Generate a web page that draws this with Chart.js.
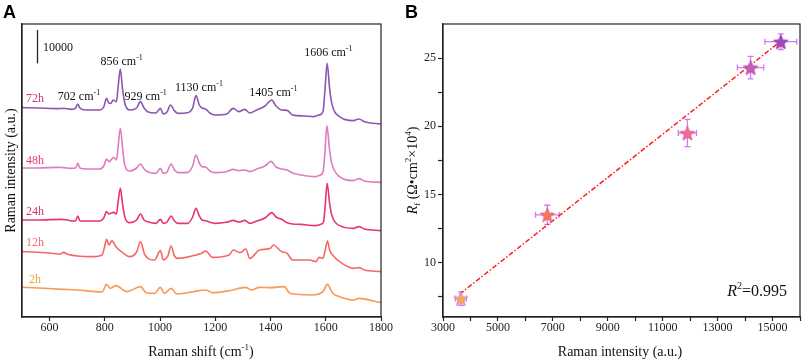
<!DOCTYPE html>
<html><head><meta charset="utf-8">
<script src="https://cdn.jsdelivr.net/npm/chart.js@4.4.1/dist/chart.umd.min.js"></script>
<style>
html,body{margin:0;padding:0;background:#fff;width:809px;height:363px;overflow:hidden}
#ca{position:absolute;left:0;top:0}
#cb{position:absolute;left:400px;top:0}
</style></head>
<body>
<canvas id="ca" width="400" height="363"></canvas>
<canvas id="cb" width="409" height="363"></canvas>
<script>
// ---------- Panel A data: Raman spectra (shift cm-1, stacked intensity a.u.) ----------
const spec72h = [[500,62800],[560,62700],[630,62500],[650,62600],[680,62300],[694,62700],[702,63900],[710,62700],[730,62100],[780,62100],[796,63000],[806,65600],[815,64200],[822,64100],[830,65100],[842,64600],[848,69000],[856,74400],[864,68500],[872,64200],[890,62100],[915,62700],[929,64600],[942,62700],[955,61600],[985,61200],[1001,62600],[1012,60900],[1025,61500],[1038,63600],[1050,62100],[1065,61100],[1100,61300],[1118,62700],[1130,66400],[1142,63600],[1152,62700],[1165,62400],[1180,61200],[1200,60600],[1240,60800],[1265,62600],[1285,61600],[1307,62300],[1325,61200],[1350,62100],[1380,63300],[1404,65100],[1420,63300],[1440,62100],[1460,62000],[1480,60600],[1520,60300],[1555,60100],[1575,60600],[1590,61600],[1597,68000],[1605,76100],[1614,68500],[1622,64000],[1650,60100],[1700,58900],[1720,59400],[1740,58600],[1800,57900]];
const spec48h = [[500,44700],[560,44700],[630,44900],[650,44800],[680,44600],[694,44700],[702,46100],[710,44700],[730,44400],[780,44400],[796,45300],[806,47400],[815,46600],[832,47900],[842,47100],[848,51000],[856,56600],[864,51000],[872,45600],[890,43800],[915,44700],[929,45900],[942,44400],[955,43600],[985,43100],[1001,44600],[1012,43100],[1025,43500],[1040,45900],[1052,44100],[1065,43300],[1100,43400],[1118,45300],[1130,48600],[1142,46200],[1152,45100],[1165,45000],[1180,43800],[1200,43300],[1240,43600],[1265,44300],[1285,43900],[1307,44100],[1325,43600],[1350,44400],[1380,45300],[1402,46700],[1420,45000],[1440,44400],[1460,44100],[1480,43200],[1510,42600],[1560,42100],[1580,42600],[1590,43500],[1597,49500],[1604,57400],[1614,50000],[1622,46000],[1650,42100],[1700,40900],[1720,41500],[1740,40800],[1800,40400]];
const spec24h = [[500,29100],[560,29100],[640,29300],[660,29200],[680,28800],[694,28800],[702,30300],[710,28800],[780,28800],[796,29700],[806,31600],[815,30900],[832,31400],[842,30900],[848,34500],[856,38600],[864,34000],[872,30100],[890,28300],[915,29100],[929,30900],[942,29100],[955,28600],[985,28100],[1001,29300],[1012,28100],[1025,28500],[1040,30300],[1052,28800],[1065,28100],[1100,28100],[1118,30000],[1130,32600],[1142,30300],[1152,29100],[1165,28900],[1180,28400],[1200,28100],[1240,28400],[1265,29000],[1285,28500],[1307,29000],[1325,28100],[1350,28800],[1380,29700],[1405,31300],[1420,30000],[1440,29300],[1460,28300],[1480,27900],[1510,27800],[1560,27400],[1585,27900],[1592,28600],[1598,33500],[1605,40100],[1614,34000],[1622,30500],[1650,27400],[1700,26600],[1720,27100],[1740,26400],[1800,25900]];
const spec12h = [[500,19600],[540,19500],[600,19200],[640,18900],[650,19400],[665,18800],[700,18300],[760,18100],[790,18600],[798,20700],[806,23300],[815,21600],[825,22900],[840,21100],[860,19600],[890,18100],[915,19500],[929,22600],[945,18600],[980,17100],[1001,19900],[1012,17100],[1028,18300],[1040,21300],[1052,18300],[1065,17600],[1100,18000],[1150,19100],[1165,19800],[1190,17900],[1250,18600],[1265,20100],[1290,19300],[1310,20400],[1325,17600],[1360,20100],[1400,20600],[1410,21600],[1440,19600],[1460,19100],[1480,17100],[1540,17100],[1565,16600],[1575,17900],[1590,17600],[1598,20100],[1606,22800],[1614,20100],[1625,18600],[1650,16600],[1700,14600],[1720,14800],[1740,14100],[1800,13600]];
const spec2h = [[500,8900],[560,8700],[650,8300],[700,8100],[790,7500],[806,9800],[820,8600],[840,9400],[880,7600],[929,9100],[950,7300],[980,7100],[1001,8900],[1015,7100],[1040,8600],[1060,6900],[1100,7300],[1120,7600],[1165,8100],[1190,7300],[1250,7900],[1310,8900],[1330,8100],[1360,8900],[1400,8800],[1450,9100],[1470,7100],[1550,6600],[1590,7600],[1606,9800],[1625,7100],[1650,6100],[1700,5100],[1720,5600],[1800,4300]];
const seriesNames = ['2h','12h','24h','48h','72h'];
const seriesColors = ['#f89a55','#f46a62','#e8346f','#de7cc0','#8c56b2'];
const labelColors = ['#f2a02e','#f26f6f','#e0306c','#e6407c','#c9386f'];
const peakLabels = ['702','856','929','1130','1405','1606'];
const xTicksA = [600,800,1000,1200,1400,1600,1800];
const scaleBarValue = 10000;

// ---------- Panel B data ----------
const ramanIntensity = [3650,6800,11900,14200,15300];
const ramanIntensityErr = [200,430,330,480,580];
const rfValues = [7.35,13.5,19.5,24.3,26.2];
const rfErr = [0.5,0.7,1.0,0.83,0.57];
const fitX = [3600,15350];
const fitY = [7.67,26.32];
const xTicksB = [3000,4000,5000,6000,7000,8000,9000,10000,11000,12000,13000,14000,15000,16000];
const yTicksB = [7.5,10,12.5,15,17.5,20,22.5,25];
const r2Text = '0.995';

const SERIF = '"Liberation Serif", "Times New Roman", serif';
const SANS = '"Liberation Sans", Arial, sans-serif';

function rich(ctx, segs, x, y, align){
  let w = 0;
  segs.forEach(s => { ctx.font = (s.style||'') + ' ' + s.size + 'px ' + SERIF; w += ctx.measureText(s.t).width; });
  let cx = align === 'center' ? x - w/2 : (align === 'right' ? x - w : x);
  segs.forEach(s => {
    ctx.font = (s.style||'') + ' ' + s.size + 'px ' + SERIF;
    ctx.fillText(s.t, cx, y + (s.dy||0));
    cx += ctx.measureText(s.t).width;
  });
}

// ---------- Panel A ----------
const specs = [spec2h, spec12h, spec24h, spec48h, spec72h];
const labelPosA = [[35,283],[35,246],[35,215],[35,163.5],[35,102]];
const peakPosA = [[79,99.7],[121.7,65],[145.7,99.7],[199,91.3],[273.3,95.7],[328.3,55.7]];

const annotA = {
  id: 'annotA',
  afterDraw(c){
    const ctx = c.ctx, a = c.chartArea, y = c.scales.y;
    ctx.save();
    ctx.strokeStyle = '#222'; ctx.lineWidth = 1.2;
    ctx.strokeRect(a.left, a.top, a.right - a.left, a.bottom - a.top);
    // scale bar
    const h = y.getPixelForValue(0) - y.getPixelForValue(scaleBarValue);
    ctx.lineWidth = 1.3;
    ctx.beginPath(); ctx.moveTo(37.5, 30); ctx.lineTo(37.5, 30 + h); ctx.stroke();
    ctx.fillStyle = '#111'; ctx.textBaseline = 'alphabetic';
    rich(ctx, [{t:String(scaleBarValue), size:12}], 43, 51, 'left');
    // peak labels
    peakLabels.forEach((p,i) => {
      rich(ctx, [{t:p+' cm', size:12},{t:'-1', size:8, dy:-5}], peakPosA[i][0], peakPosA[i][1], 'center');
    });
    // series labels
    seriesNames.forEach((n,i) => {
      ctx.fillStyle = labelColors[i];
      rich(ctx, [{t:n, size:12}], labelPosA[i][0], labelPosA[i][1], 'center');
    });
    // axis titles
    ctx.fillStyle = '#111';
    rich(ctx, [{t:'Raman shift (cm', size:14},{t:'-1', size:9, dy:-6},{t:')', size:14}], 201, 356, 'center');
    ctx.save(); ctx.translate(15, 170.5); ctx.rotate(-Math.PI/2);
    rich(ctx, [{t:'Raman intensity (a.u.)', size:14}], 0, 0, 'center');
    ctx.restore();
    ctx.font = 'bold 18px ' + SANS; ctx.fillStyle = '#000';
    ctx.fillText('A', 3, 18);
    ctx.restore();
  }
};

new Chart(document.getElementById('ca'), {
  type: 'line',
  data: { datasets: specs.map((s,i) => ({
    label: seriesNames[i],
    data: s.map(p => ({x:p[0], y:p[1]})),
    borderColor: seriesColors[i], borderWidth: 1.6, pointRadius: 0, fill: false,
    cubicInterpolationMode: 'monotone'
  })) },
  options: {
    responsive: false, animation: false, events: [],
    plugins: { legend: {display:false}, tooltip: {enabled:false} },
    layout: { padding: {top:24, right:19, left:0, bottom:0} },
    scales: {
      x: { type:'linear', min:500, max:1800,
        afterBuildTicks: s => { s.ticks = xTicksA.map(v => ({value:v})); },
        afterFit: s => { s.height = 46; },
        ticks: { font:{family:SERIF, size:12}, color:'#222', padding:0, maxRotation:0, autoSkip:false,
          callback: v => String(v) },
        grid: { drawOnChartArea:false, tickLength:4, color:'#222', tickWidth:1.2 },
        border: { color:'#222', width:1.2 } },
      y: { type:'linear', min:0, max:87900,
        afterFit: s => { s.width = 22; },
        ticks: { display:false }, grid: { display:false },
        border: { display:true, color:'#222', width:1.2 } }
    }
  },
  plugins: [annotA]
});

// ---------- Panel B ----------
function starCanvas(fill, stroke){
  const s = 18, c = document.createElement('canvas'); c.width = s; c.height = s;
  const g = c.getContext('2d');
  g.beginPath();
  for (let i = 0; i < 10; i++){
    const r = i % 2 ? 3.3 : 7.6, a = -Math.PI/2 + i*Math.PI/5;
    g.lineTo(s/2 + r*Math.cos(a), s/2 + 0.8 + r*Math.sin(a));
  }
  g.closePath(); g.fillStyle = fill; g.fill();
  g.strokeStyle = stroke; g.lineWidth = 1; g.stroke();
  return c;
}
const starFills = ['#f7a94f','#f37a52','#f26a93','#c95cb8','#a548b8'];
const starStrokes = ['#d98ae8','#e0608a','#e25aa0','#b048b0','#9040b0'];
const stars = starFills.map((f,i) => starCanvas(f, starStrokes[i]));

const annotB = {
  id: 'annotB',
  beforeDatasetsDraw(c){
    const ctx = c.ctx, x = c.scales.x, y = c.scales.y;
    ctx.save();
    ctx.strokeStyle = '#d27af0'; ctx.lineWidth = 1.3;
    ramanIntensity.forEach((v,i) => {
      const px = x.getPixelForValue(v), py = y.getPixelForValue(rfValues[i]);
      const x0 = x.getPixelForValue(v - ramanIntensityErr[i]), x1 = x.getPixelForValue(v + ramanIntensityErr[i]);
      const y0 = y.getPixelForValue(rfValues[i] - rfErr[i]), y1 = y.getPixelForValue(rfValues[i] + rfErr[i]);
      ctx.beginPath();
      ctx.moveTo(x0, py); ctx.lineTo(x1, py);
      ctx.moveTo(px, y0); ctx.lineTo(px, y1);
      ctx.moveTo(x0, py-3); ctx.lineTo(x0, py+3);
      ctx.moveTo(x1, py-3); ctx.lineTo(x1, py+3);
      ctx.moveTo(px-3, y0); ctx.lineTo(px+3, y0);
      ctx.moveTo(px-3, y1); ctx.lineTo(px+3, y1);
      ctx.stroke();
    });
    ctx.restore();
  },
  afterDraw(c){
    const ctx = c.ctx, a = c.chartArea;
    ctx.save();
    ctx.strokeStyle = '#222'; ctx.lineWidth = 1.2;
    ctx.strokeRect(a.left, a.top, a.right - a.left, a.bottom - a.top);
    ctx.fillStyle = '#111'; ctx.textBaseline = 'alphabetic';
    rich(ctx, [{t:'R', size:16, style:'italic'},{t:'2', size:10, dy:-7},{t:'='+r2Text, size:16}], 387, 296, 'right');
    rich(ctx, [{t:'Raman intensity (a.u.)', size:14}], 220, 356, 'center');
    ctx.save(); ctx.translate(17, 170.5); ctx.rotate(-Math.PI/2);
    rich(ctx, [{t:'R', size:14, style:'italic'},{t:'f', size:9, dy:3},{t:' (\u03A9\u2022cm', size:14},{t:'2', size:9, dy:-6},{t:'\u00D710', size:14},{t:'4', size:9, dy:-6},{t:')', size:14}], 0, 0, 'center');
    ctx.restore();
    ctx.font = 'bold 18px ' + SANS; ctx.fillStyle = '#000';
    ctx.fillText('B', 5, 18);
    ctx.restore();
  }
};

new Chart(document.getElementById('cb'), {
  type: 'scatter',
  data: { datasets: [
    { type:'scatter', label:'Rf', data: ramanIntensity.map((v,i) => ({x:v, y:rfValues[i]})),
      pointStyle: stars, pointRadius: 8, order: 1 },
    { type:'line', label:'fit', data: fitX.map((v,i) => ({x:v, y:fitY[i]})),
      borderColor:'#ff1a1a', borderWidth:1.5, borderDash:[5,2,1.5,2], pointRadius:0, fill:false, order: 2 }
  ] },
  options: {
    responsive: false, animation: false, events: [],
    plugins: { legend: {display:false}, tooltip: {enabled:false} },
    layout: { padding: {top:24, right:2, left:0, bottom:0} },
    scales: {
      x: { type:'linear', min:3000, max:16000,
        afterBuildTicks: s => { s.ticks = xTicksB.map(v => ({value:v})); },
        afterFit: s => { s.height = 46; },
        ticks: { font:{family:SERIF, size:12}, color:'#222', padding:0, maxRotation:0, autoSkip:false,
          callback: v => ((v - 3000) % 2000 === 0 ? String(v) : '') },
        grid: { drawOnChartArea:false, tickLength:4, color:'#222', tickWidth:1.2 },
        border: { color:'#222', width:1.2 } },
      y: { type:'linear', min:6, max:27.5,
        afterBuildTicks: s => { s.ticks = yTicksB.map(v => ({value:v})); },
        afterFit: s => { s.width = 43; },
        ticks: { font:{family:SERIF, size:12}, color:'#222', padding:2, autoSkip:false,
          callback: v => (v % 5 === 0 ? String(v) : '') },
        grid: { drawOnChartArea:false, tickLength:5, color:'#222', tickWidth:1.2 },
        border: { color:'#222', width:1.2 } }
    }
  },
  plugins: [annotB]
});
</script>
</body></html>
